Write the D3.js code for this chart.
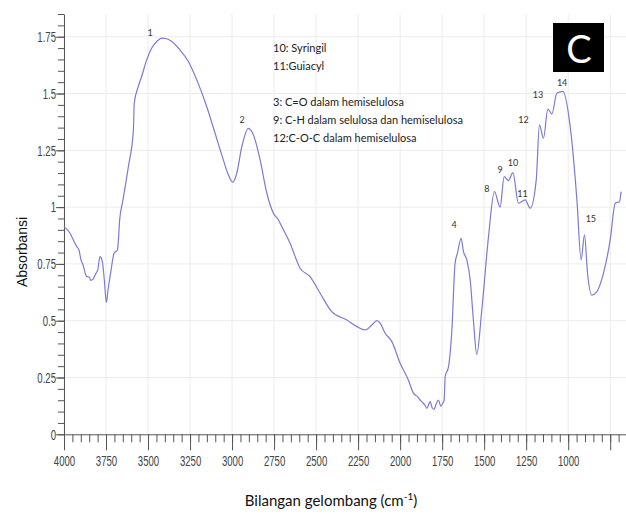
<!DOCTYPE html>
<html>
<head>
<meta charset="utf-8">
<script src="https://cdn.jsdelivr.net/npm/d3@7"></script>
<style>
    body { margin: 0; background: #fff; }
    svg { display: block; }
    .grid line { stroke: #ececec; stroke-width: 1; }
    .axis path, .axis line { stroke: #555; }
    .axis text { fill: #444; font-family: "Liberation Sans", Arial, sans-serif; font-size: 15px; }
    .spectrum { fill: none; stroke: #7b7bd0; stroke-width: 1.2; }
    .peak { fill: #333; font-family: Lato, "Open Sans", sans-serif; font-size: 9px; }
    .note { fill: #222; font-family: Lato, "Open Sans", sans-serif; font-size: 11px; }
    .title { fill: #111; font-family: Lato, "Open Sans", sans-serif; font-size: 15px; }
</style>
</head>
<body>
<div id="chart"></div>
<script>
"use strict";

// FTIR spectrum
const WAVENUMBERS = [
    4000, 3984, 3964, 3945, 3924, 3911, 3899, 3887, 3866, 3849, 3841, 3826, 3810, 3799, 3786, 3772,
    3760, 3748, 3738, 3720, 3702, 3682, 3668, 3649, 3617, 3587, 3582, 3558, 3538, 3508, 3478, 3448,
    3418, 3389, 3359, 3310, 3260, 3210, 3151, 3101, 3052, 3022, 2996, 2972, 2942, 2903, 2873, 2833,
    2793, 2754, 2724, 2714, 2655, 2595, 2536, 2476, 2407, 2317, 2258, 2208, 2168, 2139, 2119, 2089,
    2049, 2000, 1951, 1921, 1895, 1881, 1866, 1852, 1841, 1828, 1821, 1810, 1798, 1786, 1772, 1758,
    1746, 1738, 1732, 1712, 1692, 1673, 1659, 1637, 1623, 1603, 1583, 1564, 1544, 1514, 1474, 1439,
    1405, 1381, 1355, 1329, 1296, 1256, 1226, 1190, 1171, 1147, 1121, 1097, 1067, 1032, 988, 948,
    923, 903, 885, 859, 829, 790, 750, 720, 695, 685
];
const ABSORBANCE = [
    0.914, 0.903, 0.885, 0.856, 0.826, 0.811, 0.768, 0.746, 0.695, 0.692, 0.677, 0.684, 0.709, 0.724, 0.782, 0.760,
    0.679, 0.580, 0.635, 0.723, 0.797, 0.811, 0.950, 1.032, 1.178, 1.340, 1.457, 1.531, 1.575, 1.648, 1.700, 1.729,
    1.744, 1.741, 1.729, 1.692, 1.641, 1.560, 1.443, 1.325, 1.208, 1.142, 1.110, 1.149, 1.266, 1.347, 1.318, 1.208,
    1.061, 0.973, 0.944, 0.929, 0.841, 0.731, 0.694, 0.621, 0.540, 0.503, 0.474, 0.459, 0.481, 0.500, 0.489, 0.445,
    0.408, 0.313, 0.239, 0.181, 0.165, 0.151, 0.140, 0.128, 0.114, 0.135, 0.144, 0.118, 0.110, 0.132, 0.151, 0.124,
    0.137, 0.150, 0.254, 0.298, 0.459, 0.753, 0.797, 0.863, 0.804, 0.768, 0.679, 0.503, 0.352, 0.547, 0.870, 1.068,
    1.000, 1.134, 1.117, 1.152, 1.017, 1.032, 0.995, 1.120, 1.362, 1.303, 1.431, 1.410, 1.502, 1.509, 1.354, 1.032,
    0.768, 0.878, 0.709, 0.613, 0.628, 0.709, 0.856, 1.017, 1.024, 1.068
];

const X_TICKS = [4000, 3750, 3500, 3250, 3000, 2750, 2500, 2250, 2000, 1750, 1500, 1250, 1000, 750];
const X_TICK_LABELS = ["4000", "3750", "3500", "3250", "3000", "2750", "2500", "2250", "2000", "1750", "1500", "1250", "1000", ""];
const Y_TICKS = [0, 0.25, 0.5, 0.75, 1, 1.25, 1.5, 1.75];
const Y_TICK_LABELS = ["0", "0.25", "0.5", "0.75", "1", "1.25", "1.5", "1.75"];

// peak numbers and where their labels sit (wavenumber, absorbance)
const PEAK_NAMES = ["1", "2", "4", "8", "9", "10", "11", "12", "13", "14", "15"];
const PEAK_X = [3488, 2940, 1679, 1484, 1405, 1329, 1272, 1266, 1180, 1036, 865];
const PEAK_Y = [1.767, 1.384, 0.922, 1.083, 1.167, 1.198, 1.058, 1.387, 1.494, 1.550, 0.948];

const NOTES = [
    "10: Syringil",
    "11:Guiacyl",
    "",
    "3: C=O dalam hemiselulosa",
    "9: C-H dalam selulosa dan hemiselulosa",
    "12:C-O-C dalam hemiselulosa"
];

const PANEL_LETTER = "C";
const X_TITLE = "Bilangan gelombang (cm";
const X_TITLE_SUP = "-1";
const Y_TITLE = "Absorbansi";

const LABEL_SQUEEZE = 0.64;

function buildChart() {
    const width = 626, height = 514;
    const left = 64, right = 627, top = 14, bottom = 434.3;

    const svg = d3.select("#chart").append("svg")
        .attr("width", width)
        .attr("height", height);

    const x = d3.scaleLinear().domain([4000, 650]).range([left, right]);
    const y = d3.scaleLinear().domain([0, 1.85]).range([bottom, top]);

    // grid
    const grid = svg.append("g").attr("class", "grid");
    grid.selectAll(".vx")
        .data(X_TICKS)
        .enter()
        .append("line")
        .attr("x1", function (d) { return x(d); })
        .attr("x2", function (d) { return x(d); })
        .attr("y1", top)
        .attr("y2", bottom);
    grid.selectAll(".hy")
        .data(Y_TICKS.filter(function (d) { return d > 0; }))
        .enter()
        .append("line")
        .attr("x1", left)
        .attr("x2", width)
        .attr("y1", function (d) { return y(d); })
        .attr("y2", function (d) { return y(d); });

    // minor ticks first, then major ones on top
    svg.append("g")
        .attr("class", "axis")
        .attr("transform", "translate(0," + bottom + ")")
        .call(d3.axisBottom(x).tickValues(d3.range(4000, 649, -50)).tickSize(8).tickFormat(""))
        .select(".domain").remove();
    svg.append("g")
        .attr("class", "axis")
        .attr("transform", "translate(" + left + ",0)")
        .call(d3.axisLeft(y).tickValues(d3.range(0, 1.851, 0.05)).tickSize(6).tickFormat(""))
        .select(".domain").remove();

    const xAxis = svg.append("g")
        .attr("class", "axis")
        .attr("transform", "translate(0," + bottom + ")")
        .call(d3.axisBottom(x)
            .tickValues(X_TICKS)
            .tickSize(16)
            .tickSizeOuter(0)
            .tickPadding(5)
            .tickFormat(function (d, i) { return X_TICK_LABELS[i]; }));
    xAxis.selectAll("text")
        .attr("transform", "scale(" + LABEL_SQUEEZE + ",1)");

    const yAxis = svg.append("g")
        .attr("class", "axis")
        .attr("transform", "translate(" + left + ",0)")
        .call(d3.axisLeft(y)
            .tickValues(Y_TICKS)
            .tickSize(8)
            .tickSizeOuter(0)
            .tickPadding(0)
            .tickFormat(function (d, i) { return Y_TICK_LABELS[i]; }));
    yAxis.selectAll("text")
        .attr("x", -8 / LABEL_SQUEEZE)
        .attr("transform", "scale(" + LABEL_SQUEEZE + ",1)");

    // spectrum
    const points = WAVENUMBERS.map(function (w, i) {
        return [w, ABSORBANCE[i]];
    });
    const line = d3.line()
        .x(function (d) { return x(d[0]); })
        .y(function (d) { return y(d[1]); })
        .curve(d3.curveMonotoneX);
    svg.append("path")
        .datum(points)
        .attr("class", "spectrum")
        .attr("d", line);

    // peak numbers
    svg.selectAll(".peak")
        .data(PEAK_NAMES)
        .enter()
        .append("text")
        .attr("class", "peak")
        .attr("text-anchor", "middle")
        .attr("dominant-baseline", "central")
        .attr("x", function (d, i) { return x(PEAK_X[i]); })
        .attr("y", function (d, i) { return y(PEAK_Y[i]); })
        .text(function (d) { return d; });

    // legend notes
    svg.append("g")
        .selectAll("text")
        .data(NOTES)
        .enter()
        .append("text")
        .attr("class", "note")
        .attr("x", 273)
        .attr("y", function (d, i) { return 52 + i * 18; })
        .text(function (d) { return d; });

    // panel letter
    svg.append("rect")
        .attr("x", 553)
        .attr("y", 23)
        .attr("width", 51)
        .attr("height", 49)
        .attr("fill", "#000");
    svg.append("text")
        .attr("x", 579)
        .attr("y", 48)
        .attr("text-anchor", "middle")
        .attr("dominant-baseline", "central")
        .attr("fill", "#fff")
        .style("font-family", "Lato, 'Open Sans', sans-serif")
        .style("font-size", "38px")
        .text(PANEL_LETTER);

    // axis titles
    const xt = svg.append("text")
        .attr("class", "title")
        .attr("x", 331)
        .attr("y", 506)
        .attr("text-anchor", "middle");
    xt.append("tspan").text(X_TITLE);
    xt.append("tspan")
        .attr("dy", -6)
        .style("font-size", "10px")
        .text(X_TITLE_SUP);
    xt.append("tspan")
        .attr("dy", 6)
        .text(")");

    svg.append("text")
        .attr("class", "title")
        .attr("transform", "translate(27,252) rotate(-90)")
        .attr("text-anchor", "middle")
        .style("font-family", "'Liberation Sans', Arial, sans-serif")
        .style("font-size", "14px")
        .text(Y_TITLE);
}

buildChart();
</script>
</body>
</html>
